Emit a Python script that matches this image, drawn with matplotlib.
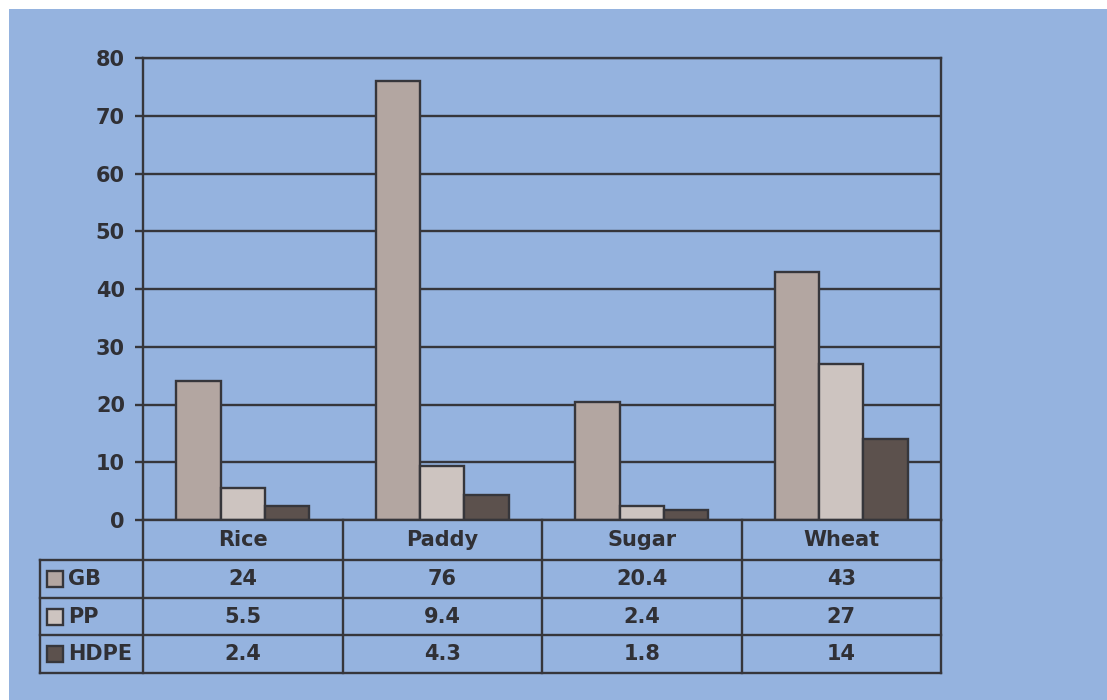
import matplotlib.pyplot as plt
import matplotlib.transforms as mtransforms
from matplotlib.patches import Rectangle

# --- data ---
categories = ['Rice', 'Paddy', 'Sugar', 'Wheat']
series_names = ['GB', 'PP', 'HDPE']
gb = [24, 76, 20.4, 43]
pp = [5.5, 9.4, 2.4, 27]
hdpe = [2.4, 4.3, 1.8, 14]
value_labels = [['24', '76', '20.4', '43'],
                ['5.5', '9.4', '2.4', '27'],
                ['2.4', '4.3', '1.8', '14']]
yticks = [0, 10, 20, 30, 40, 50, 60, 70, 80]

# --- style ---
BG = '#95B3DF'
LINE = '#36363B'
TXT = '#303035'
colors = ['#B3A6A1', '#CDC4C0', '#5C514D']
plt.rcParams['font.family'] = ['DejaVu Sans']
plt.rcParams['font.weight'] = 'bold'

W, H = 1107, 700
fig = plt.figure(figsize=(W / 100, H / 100), dpi=100, facecolor='white')
fig.patches.append(Rectangle((9 / W, 0), 1 - 9 / W, 1 - 9 / H, transform=fig.transFigure,
                             facecolor=BG, edgecolor='none', zorder=-10))

ax_l, ax_r, ax_t, ax_b = 143, 941, 58, 520
ax = fig.add_axes([ax_l / W, 1 - ax_b / H, (ax_r - ax_l) / W, (ax_b - ax_t) / H])
ax.set_facecolor(BG)

x = list(range(len(categories)))
bw = 0.223
for i, vals in enumerate([gb, pp, hdpe]):
    ax.bar([xi + (i - 1) * bw for xi in x], vals, width=bw, color=colors[i],
           edgecolor=LINE, linewidth=1.7, zorder=3)

ax.set_xlim(-0.5, len(categories) - 0.5)
ax.set_ylim(0, 80)
ax.set_yticks(yticks)
ax.set_yticklabels([str(t) for t in yticks], fontsize=15, fontweight='bold', color=TXT)
ax.set_xticks([])
ax.tick_params(axis='y', length=6, width=1.7, color=LINE, pad=7)
ax.yaxis.grid(True, color=LINE, linewidth=1.7, zorder=1)
ax.set_axisbelow(True)
for s in ax.spines.values():
    s.set_color(LINE)
    s.set_linewidth(1.7)
    s.set_zorder(4)

# --- data table below the axes ---
trans = mtransforms.blended_transform_factory(ax.transData, ax.transAxes)
px = (ax_b - ax_t)  # axes height in px
head_h = 40 / px
row_h = 37.7 / px
unit = (ax_r - ax_l) / len(categories)
x_left = -0.5 - (ax_l - 40) / unit
x_right = len(categories) - 0.5
n_rows = len(series_names)
bottom = -head_h - n_rows * row_h
kw = dict(color=LINE, linewidth=1.7, transform=trans, clip_on=False)

# horizontal lines
for r in range(n_rows + 1):
    y = -head_h - r * row_h
    ax.plot([x_left, x_right], [y, y], **kw)
# vertical lines
for xc in [-0.5 + k for k in range(len(categories) + 1)]:
    ax.plot([xc, xc], [0, bottom], **kw)
ax.plot([x_left, x_left], [-head_h, bottom], **kw)

# header
for xi, c in zip(x, categories):
    ax.text(xi, -0.5 * head_h, c, transform=trans, ha='center', va='center',
            fontsize=15, fontweight='bold', color=TXT)

# rows
for r, name in enumerate(series_names):
    yc = -head_h - (r + 0.5) * row_h
    ax.add_patch(Rectangle((x_left + 7 / unit, yc - 8 / px), 16 / unit, 16 / px, transform=trans,
                           facecolor=colors[r], edgecolor=LINE, linewidth=1.7, clip_on=False))
    ax.text(x_left + 28 / unit, yc, name, transform=trans, ha='left', va='center',
            fontsize=15, fontweight='bold', color=TXT)
    for xi, lab in zip(x, value_labels[r]):
        ax.text(xi, yc, lab, transform=trans, ha='center', va='center',
                fontsize=15, fontweight='bold', color=TXT)

fig.savefig('out.png', dpi=100, facecolor='white')
